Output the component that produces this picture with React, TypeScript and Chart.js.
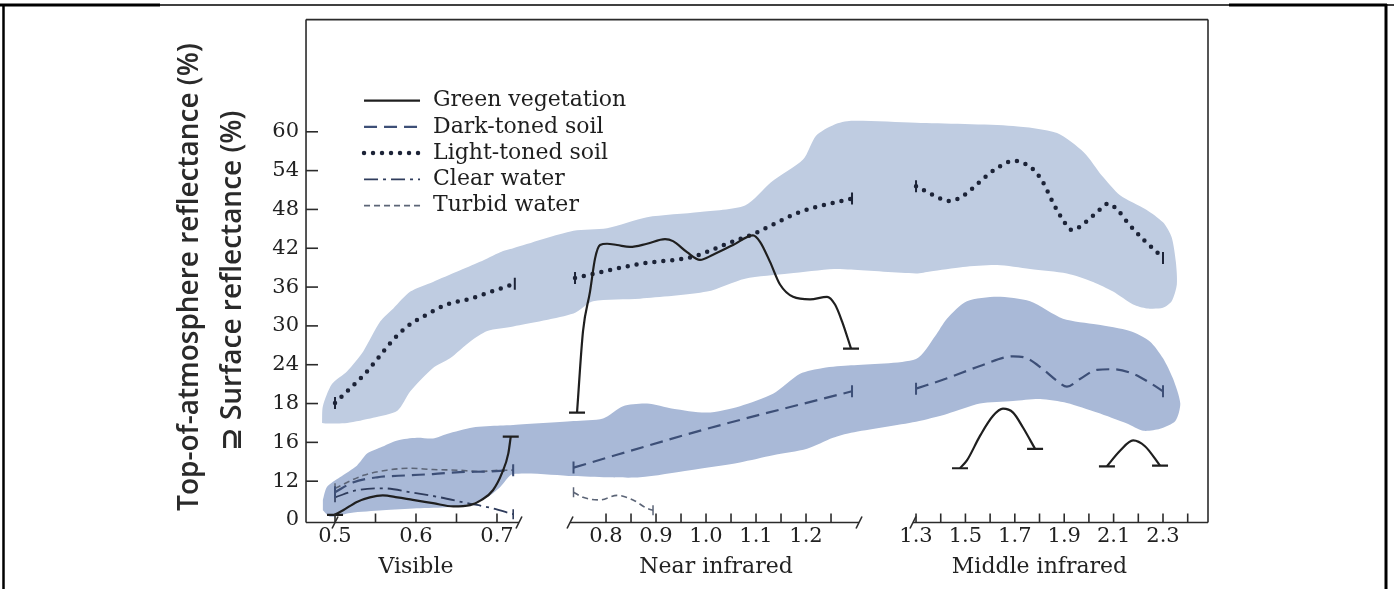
import React, { useEffect, useRef } from 'react';
import { Chart, registerables, LinearScale } from 'chart.js';

// ---------------- data ----------------
const seriesNames = ['Green vegetation', 'Dark-toned soil', 'Light-toned soil', 'Clear water', 'Turbid water'];

const yTickValues = [0, 6, 12, 18, 24, 30, 36, 42, 48, 54, 60];
const yTickLabels = ['0', '12', '16', '18', '24', '30', '36', '42', '48', '54', '60'];

const xTickValues = [0.5, 0.55, 0.6, 0.65, 0.7, 0.8, 0.85, 0.9, 0.95, 1.0, 1.05, 1.1, 1.15, 1.2, 1.25, 1.3, 1.4, 1.5, 1.6, 1.7, 1.8, 1.9, 2.0, 2.1, 2.2, 2.3, 2.4];
const xTickLabels = ['0.5', '', '0.6', '', '0.7', '0.8', '', '0.9', '', '1.0', '', '1.1', '', '1.2', '', '1.3', '', '1.5', '', '1.7', '', '1.9', '', '2.1', '', '2.3', ''];

const regionNames = ['Visible', 'Near infrared', 'Middle infrared'];
const regionCenters = [0.6, 1.02, 1.8];

// [wavelength (µm), reflectance]
const vegetationVisible: [number, number][] = [[0.5, 0.8], [0.51, 1.5], [0.527, 2.8], [0.543, 3.5], [0.559, 3.8], [0.577, 3.5], [0.596, 3.1], [0.621, 2.6], [0.646, 2.1], [0.667, 2.3], [0.681, 3.1], [0.695, 4.6], [0.706, 7.2], [0.714, 10.3], [0.717, 12.9]];
const vegetationNearIR: [number, number][] = [[0.742, 16.6], [0.754, 29.2], [0.768, 35.3], [0.778, 40.4], [0.788, 42.5], [0.802, 42.7], [0.822, 42.5], [0.848, 42.2], [0.882, 42.7], [0.918, 43.4], [0.934, 43.1], [0.962, 41.4], [0.988, 40.2], [1.014, 41.0], [1.054, 42.5], [1.094, 44.0], [1.108, 43.0], [1.128, 39.9], [1.148, 36.4], [1.174, 34.5], [1.208, 34.1], [1.242, 34.5], [1.258, 33.3], [1.272, 30.7], [1.29, 26.5]];
const vegetationMidIR1: [number, number][] = [[1.478, 8.0], [1.506, 9.2], [1.559, 13.0], [1.612, 16.1], [1.652, 17.2], [1.693, 16.6], [1.733, 14.3], [1.782, 11.0]];
const vegetationMidIR2: [number, number][] = [[2.073, 8.3], [2.126, 10.7], [2.179, 12.3], [2.227, 11.4], [2.288, 8.4]];

const darkSoilVisible: [number, number][] = [[0.5, 4.3], [0.522, 5.8], [0.552, 6.6], [0.589, 6.9], [0.621, 7.1], [0.654, 7.4], [0.688, 7.5], [0.72, 7.7]];
const darkSoilNearIR: [number, number][] = [[0.735, 8.1], [1.002, 14.1], [1.292, 19.9]];
const darkSoilMidIR: [number, number][] = [[1.3, 20.3], [1.426, 21.9], [1.559, 23.8], [1.693, 25.3], [1.749, 25.0], [1.814, 23.3], [1.871, 21.5], [1.911, 20.6], [1.964, 21.8], [2.032, 23.2], [2.098, 23.3], [2.179, 22.6], [2.247, 21.2], [2.3, 19.9]];

const lightSoilVisible: [number, number][] = [[0.5, 18.1], [0.519, 20.4], [0.537, 22.6], [0.553, 25.0], [0.57, 27.6], [0.589, 29.9], [0.614, 31.8], [0.638, 33.3], [0.667, 34.2], [0.695, 35.4], [0.722, 36.5]];
const lightSoilNearIR: [number, number][] = [[0.738, 37.4], [0.868, 39.6], [0.974, 40.7], [1.042, 42.7], [1.094, 44.2], [1.188, 47.6], [1.292, 49.7]];
const lightSoilMidIR: [number, number][] = [[1.3, 51.6], [1.405, 49.6], [1.438, 49.3], [1.498, 50.3], [1.559, 52.3], [1.62, 54.2], [1.697, 55.5], [1.774, 54.2], [1.814, 52.2], [1.854, 49.1], [1.891, 46.6], [1.932, 44.8], [1.992, 46.2], [2.045, 48.0], [2.077, 48.9], [2.114, 48.0], [2.158, 45.9], [2.219, 43.4], [2.267, 41.7], [2.3, 40.5]];

const clearWaterVisible: [number, number][] = [[0.5, 3.5], [0.527, 4.6], [0.559, 4.9], [0.593, 4.3], [0.63, 3.5], [0.663, 2.6], [0.688, 2.0], [0.72, 0.9]];

const turbidWaterVisible: [number, number][] = [[0.5, 4.9], [0.535, 6.9], [0.564, 7.7], [0.593, 8.0], [0.621, 7.8], [0.651, 7.7], [0.679, 7.5], [0.704, 7.7], [0.72, 7.7]];
const turbidWaterNearIR: [number, number][] = [[0.735, 4.3], [0.754, 3.5], [0.788, 3.1], [0.822, 3.8], [0.854, 3.1], [0.882, 1.8], [0.894, 1.5]];

// envelope outlines (closed shapes)
const soilEnvelope: [number, number][] = [[0.484, 15.0], [0.485, 17.6], [0.496, 21.0], [0.515, 23.0], [0.535, 26.1], [0.556, 30.7], [0.572, 32.7], [0.593, 35.3], [0.621, 36.8], [0.651, 38.4], [0.679, 39.9], [0.704, 41.4], [0.72, 42.0], [0.735, 44.7], [0.802, 45.1], [0.882, 46.8], [0.988, 47.6], [1.078, 48.6], [1.13, 52.2], [1.194, 55.7], [1.22, 59.4], [1.256, 61.1], [1.29, 61.7], [1.3, 61.4], [1.693, 60.9], [1.871, 59.8], [1.98, 56.8], [2.053, 53.2], [2.126, 50.2], [2.231, 48.0], [2.3, 46.0], [2.335, 43.7], [2.352, 39.9], [2.356, 36.4], [2.335, 33.8], [2.3, 32.8], [2.235, 32.7], [2.179, 33.3], [2.098, 35.3], [2.017, 36.8], [1.911, 38.1], [1.762, 38.8], [1.628, 39.4], [1.49, 39.1], [1.357, 38.4], [1.3, 38.1], [1.29, 38.7], [1.256, 38.8], [1.166, 38.1], [1.078, 37.3], [1.002, 35.3], [0.868, 34.2], [0.774, 33.8], [0.735, 31.9], [0.72, 29.9], [0.688, 29.2], [0.667, 27.6], [0.642, 25.0], [0.621, 23.5], [0.593, 19.9], [0.577, 16.9], [0.547, 15.8], [0.515, 15.0], [0.488, 14.9]];
const waterVegEnvelope: [number, number][] = [[0.485, 3.1], [0.49, 5.1], [0.506, 6.6], [0.527, 8.4], [0.54, 10.3], [0.556, 11.2], [0.577, 12.3], [0.601, 12.7], [0.621, 12.6], [0.638, 13.3], [0.67, 14.3], [0.704, 14.6], [0.72, 14.7], [0.735, 15.3], [0.794, 15.7], [0.834, 17.6], [0.882, 18.0], [0.934, 17.2], [1.002, 16.6], [1.068, 17.6], [1.134, 19.5], [1.188, 22.6], [1.234, 23.5], [1.29, 23.9], [1.3, 24.9], [1.377, 28.4], [1.425, 31.1], [1.506, 33.8], [1.628, 34.5], [1.762, 33.8], [1.895, 31.1], [2.033, 30.2], [2.166, 29.2], [2.247, 27.6], [2.3, 25.0], [2.34, 21.9], [2.37, 18.0], [2.35, 15.3], [2.288, 14.1], [2.219, 13.8], [2.154, 14.9], [2.033, 16.6], [1.911, 18.1], [1.802, 18.7], [1.693, 18.4], [1.559, 18.0], [1.425, 16.4], [1.3, 15.2], [1.29, 13.5], [1.254, 12.7], [1.202, 11.0], [1.134, 10.0], [1.068, 8.9], [0.968, 7.7], [0.868, 6.6], [0.802, 6.6], [0.735, 6.8], [0.72, 7.1], [0.704, 5.1], [0.688, 3.5], [0.67, 2.6], [0.642, 2.0], [0.601, 1.8], [0.559, 1.5], [0.519, 1.1], [0.494, 0.5], [0.485, 1.5]];

// ---------------- broken wavelength axis ----------------
// wavelength range of each axis piece -> fraction of plot width
const SEGMENTS = [
  { w0: 0.4642, w1: 0.7247, f0: 0, f1: 0.2339 },
  { w0: 0.73, w1: 1.295, f0: 0.2938, f1: 0.607 },
  { w0: 1.3, w1: 2.4822, f0: 0.6763, f1: 1 },
];
const AXIS_PIECES: [number, number][] = [[0, 0.2361], [0.2927, 0.6131], [0.6729, 1]];
const AXIS_BREAKS = [0.2361, 0.2927, 0.6131, 0.6729];

function waveToFraction(w: number): number {
  for (let i = 0; i < SEGMENTS.length; i++) {
    const s = SEGMENTS[i];
    if (w < s.w0 && i > 0) {
      const p = SEGMENTS[i - 1];
      return p.f1 + ((w - p.w1) / (s.w0 - p.w1)) * (s.f0 - p.f1);
    }
    if (w <= s.w1 || i === SEGMENTS.length - 1) {
      return s.f0 + ((w - s.w0) / (s.w1 - s.w0)) * (s.f1 - s.f0);
    }
  }
  return 1;
}
function fractionToWave(f: number): number {
  for (let i = 0; i < SEGMENTS.length; i++) {
    const s = SEGMENTS[i];
    if (f < s.f0 && i > 0) {
      const p = SEGMENTS[i - 1];
      return p.w1 + ((f - p.f1) / (s.f0 - p.f1)) * (s.w0 - p.w1);
    }
    if (f <= s.f1 || i === SEGMENTS.length - 1) {
      return s.w0 + ((f - s.f0) / (s.f1 - s.f0)) * (s.w1 - s.w0);
    }
  }
  return SEGMENTS[SEGMENTS.length - 1].w1;
}

class BrokenAxisScale extends (LinearScale as any) {
  static id = 'brokenAxis';
  static defaults = {};
  getPixelForValue(value: any) {
    if (value === null || value === undefined || Number.isNaN(+value)) return NaN;
    return (this as any).getPixelForDecimal(waveToFraction(+value));
  }
  getValueForPixel(pixel: number) {
    return fractionToWave((this as any).getDecimalForPixel(pixel));
  }
}

Chart.register(...registerables, BrokenAxisScale as any);

// ---------------- helpers ----------------
type Pt = { x: number; y: number | null };
function joinSegments(...segs: [number, number][][]): Pt[] {
  const out: Pt[] = [];
  segs.forEach((s, k) => {
    if (k > 0) {
      const prev = segs[k - 1];
      out.push({ x: (prev[prev.length - 1][0] + s[0][0]) / 2, y: null });
    }
    s.forEach(([x, y]) => out.push({ x, y }));
  });
  return out;
}
function isEnd(data: Pt[], i: number) {
  const p = data[i];
  if (!p || p.y == null) return false;
  const a = data[i - 1];
  const b = data[i + 1];
  return !a || a.y == null || !b || b.y == null;
}
const endRadius = (r: number) => (c: any) => (isEnd(c.dataset.data, c.dataIndex) ? r : 0);

const SERIF = '"DejaVu Serif", "Liberation Serif", serif';
const TEXT = '#222222';

const LEGEND = { top: 81, row: 26.25, x0: 58, x1: 114, textX: 127 };

const legendPlugin = {
  id: 'insideLegend',
  afterDatasetsDraw(chart: any) {
    const { ctx, chartArea: a } = chart;
    ctx.save();
    seriesNames.forEach((name, i) => {
      const ds = chart.data.datasets[i];
      const y = a.top + LEGEND.top + i * LEGEND.row;
      ctx.beginPath();
      ctx.setLineDash(ds.borderDash || []);
      ctx.lineCap = ds.borderCapStyle || 'butt';
      ctx.lineWidth = ds.borderWidth;
      ctx.strokeStyle = ds.borderColor;
      ctx.moveTo(a.left + LEGEND.x0, y);
      ctx.lineTo(a.left + LEGEND.x1, y);
      ctx.stroke();
      ctx.setLineDash([]);
      ctx.fillStyle = '#1e1e1e';
      ctx.font = `22px ${SERIF}`;
      ctx.textBaseline = 'middle';
      ctx.textAlign = 'left';
      ctx.fillText(name, a.left + LEGEND.textX, y);
    });
    ctx.restore();
  },
};

const framePlugin = {
  id: 'frame',
  afterDraw(chart: any) {
    const { ctx, chartArea: a, scales } = chart;
    const w = a.right - a.left;
    const axisY = a.bottom + 2.5;
    const line = (x1: number, y1: number, x2: number, y2: number) => {
      ctx.beginPath();
      ctx.moveTo(x1, y1);
      ctx.lineTo(x2, y2);
      ctx.stroke();
    };
    ctx.save();
    ctx.strokeStyle = '#2b2b2b';
    ctx.lineWidth = 1.6;
    line(a.left, a.top, a.right, a.top);
    line(a.left, a.top, a.left, axisY);
    line(a.right, a.top, a.right, axisY);
    AXIS_PIECES.forEach(([f0, f1]) => line(a.left + f0 * w, axisY, a.left + f1 * w, axisY));
    const slash = (x: number) => line(x - 3, axisY + 6, x + 3, axisY - 6);
    AXIS_BREAKS.forEach((f) => slash(a.left + f * w));
    slash(scales.x.getPixelForValue(0.5));
    scales.x.ticks.forEach((t: any) => {
      const px = scales.x.getPixelForValue(t.value);
      line(px, axisY, px, axisY - 9);
    });
    scales.y.ticks.forEach((t: any) => {
      if (t.value === 0) return;
      const py = scales.y.getPixelForValue(t.value);
      line(a.left, py, a.left + 12, py);
    });
    // outer border of the figure
    ctx.strokeStyle = '#000';
    ctx.lineWidth = 1.5;
    line(0, 5, chart.width, 5);
    ctx.lineWidth = 3;
    line(0, 5, 160, 5);
    line(1229, 5, 1387, 5);
    ctx.lineWidth = 2.5;
    line(3.5, 4, 3.5, chart.height);
    ctx.lineWidth = 3;
    line(1386, 4, 1386, chart.height);
    ctx.restore();
  },
};

const VEG = '#1f1f1f';
const DARK = '#3d4f77';
const LIGHT = '#1c2337';
const CLEAR = '#2f3c5c';
const TURBID = '#5c6577';

export default function App() {
  const ref = useRef<HTMLCanvasElement>(null);
  useEffect(() => {
    document.body.style.margin = '0';
    const lineBase = {
      fill: false,
      spanGaps: false,
      cubicInterpolationMode: 'monotone',
      pointStyle: 'line',
      pointHoverRadius: 0,
      pointHitRadius: 0,
    };
    const chart = new Chart(ref.current as HTMLCanvasElement, {
      type: 'line',
      data: {
        datasets: [
          {
            ...lineBase,
            label: seriesNames[0],
            data: joinSegments(vegetationVisible, vegetationNearIR, vegetationMidIR1, vegetationMidIR2),
            borderColor: VEG,
            borderWidth: 2.2,
            borderDash: [],
            borderCapStyle: 'butt',
            pointRadius: endRadius(8),
            pointRotation: 0,
            pointBorderColor: VEG,
            pointBorderWidth: 2.2,
          },
          {
            ...lineBase,
            label: seriesNames[1],
            data: joinSegments(darkSoilVisible, darkSoilNearIR, darkSoilMidIR),
            borderColor: DARK,
            borderWidth: 2.2,
            borderDash: [13, 7],
            borderCapStyle: 'butt',
            pointRadius: endRadius(6),
            pointRotation: 90,
            pointBorderColor: DARK,
            pointBorderWidth: 2,
          },
          {
            ...lineBase,
            label: seriesNames[2],
            data: joinSegments(lightSoilVisible, lightSoilNearIR, lightSoilMidIR),
            borderColor: LIGHT,
            borderWidth: 4.5,
            borderDash: [0, 9],
            borderCapStyle: 'round',
            pointRadius: endRadius(6),
            pointRotation: 90,
            pointBorderColor: LIGHT,
            pointBorderWidth: 2,
          },
          {
            ...lineBase,
            label: seriesNames[3],
            data: joinSegments(clearWaterVisible),
            borderColor: CLEAR,
            borderWidth: 1.8,
            borderDash: [14, 5, 3, 5],
            borderCapStyle: 'butt',
            pointRadius: endRadius(5),
            pointRotation: 90,
            pointBorderColor: CLEAR,
            pointBorderWidth: 1.6,
          },
          {
            ...lineBase,
            label: seriesNames[4],
            data: joinSegments(turbidWaterVisible, turbidWaterNearIR),
            borderColor: TURBID,
            borderWidth: 1.6,
            borderDash: [6, 4],
            borderCapStyle: 'butt',
            pointRadius: endRadius(5),
            pointRotation: 90,
            pointBorderColor: TURBID,
            pointBorderWidth: 1.5,
          },
          {
            label: 'soil envelope',
            data: soilEnvelope.map(([x, y]) => ({ x, y })),
            borderWidth: 0,
            pointRadius: 0,
            pointHoverRadius: 0,
            tension: 0.25,
            fill: 'shape',
            backgroundColor: 'rgb(191, 204, 225)',
          },
          {
            label: 'water/vegetation envelope',
            data: waterVegEnvelope.map(([x, y]) => ({ x, y })),
            borderWidth: 0,
            pointRadius: 0,
            pointHoverRadius: 0,
            tension: 0.25,
            fill: 'shape',
            backgroundColor: 'rgb(169, 185, 215)',
          },
        ] as any,
      },
      options: {
        responsive: false,
        devicePixelRatio: 1,
        animation: false,
        events: [],
        layout: { padding: { left: 168.5, right: 186, top: 16, bottom: 8.6 } },
        plugins: { legend: { display: false }, tooltip: { enabled: false } },
        scales: {
          x: {
            type: 'brokenAxis' as any,
            position: 'bottom',
            weight: 0,
            min: 0.4642,
            max: 2.4822,
            grid: { display: false, drawTicks: false },
            border: { display: false },
            afterBuildTicks: (s: any) => {
              s.ticks = xTickValues.map((v) => ({ value: v }));
            },
            ticks: {
              autoSkip: false,
              maxRotation: 0,
              minRotation: 0,
              padding: 4.4,
              color: TEXT,
              font: { family: SERIF, size: 21 },
              callback: (_v: any, i: number) => xTickLabels[i] ?? '',
            },
          },
          xRegion: {
            type: 'brokenAxis' as any,
            position: 'bottom',
            weight: 1,
            min: 0.4642,
            max: 2.4822,
            grid: { display: false, drawTicks: false },
            border: { display: false },
            afterBuildTicks: (s: any) => {
              s.ticks = regionCenters.map((v) => ({ value: v }));
            },
            ticks: {
              autoSkip: false,
              maxRotation: 0,
              minRotation: 0,
              padding: 0,
              color: TEXT,
              font: { family: SERIF, size: 22 },
              callback: (_v: any, i: number) => regionNames[i] ?? '',
            },
          },
          y: {
            type: 'linear',
            min: 0,
            max: 77.34,
            grid: { display: false, drawTicks: false },
            border: { display: false },
            afterBuildTicks: (s: any) => {
              s.ticks = yTickValues.map((v) => ({ value: v }));
            },
            ticks: {
              padding: 7,
              color: TEXT,
              font: { family: SERIF, size: 21 },
              callback: (_v: any, i: number) => yTickLabels[i] ?? '',
            },
            title: {
              display: true,
              text: ['Top-of-atmosphere reflectance (%)  ', '\u2287 Surface reflectance (%)   '],
              color: '#2a2a2a',
              font: { family: '"Open Sans", "DejaVu Sans", sans-serif', size: 28, weight: '600', lineHeight: 1.5357 },
              padding: { top: 0, bottom: 10.8 },
            },
          },
        },
      } as any,
      plugins: [legendPlugin, framePlugin],
    });
    return () => chart.destroy();
  }, []);
  return (
    <div style={{ width: 1394, height: 589, background: '#ffffff' }}>
      <canvas ref={ref} width={1394} height={589} style={{ display: 'block' }} />
    </div>
  );
}
